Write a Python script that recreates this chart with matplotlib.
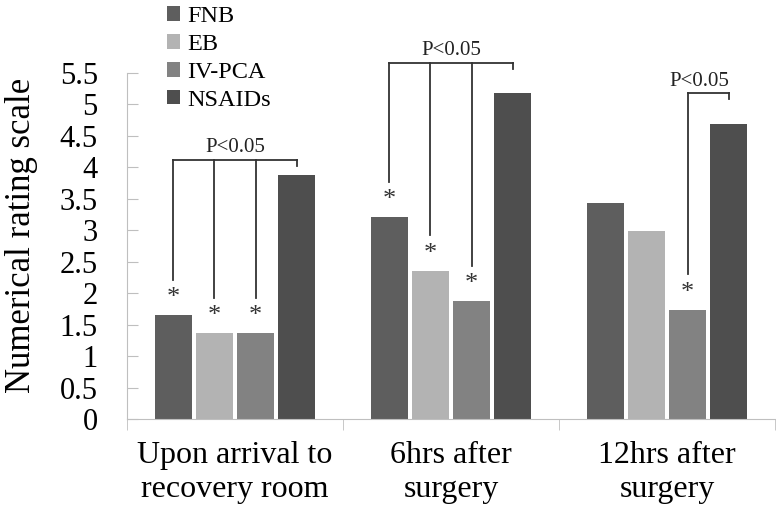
import numpy as np
import matplotlib
matplotlib.use("Agg")
import matplotlib.pyplot as plt

plt.rcParams['font.family'] = ['Liberation Serif', 'DejaVu Serif']

categories = ["Upon arrival to\nrecovery room", "6hrs after\nsurgery", "12hrs after\nsurgery"]
groups = ["FNB", "EB", "IV-PCA", "NSAIDs"]
fnb = [1.65, 3.21, 3.43]
eb = [1.37, 2.36, 2.99]
ivpca = [1.37, 1.87, 1.74]
nsaids = [3.88, 5.19, 4.69]
colors = ["#5e5e5e", "#b3b3b3", "#828282", "#4e4e4e"]

# significance: (category, bars compared with NSAIDs, bracket height)
brackets = [(0, [0, 1, 2], 4.12), (1, [0, 1, 2], 5.66), (2, [2], 5.18)]

fig = plt.figure(figsize=(7.76, 5.15), dpi=100)
ax = fig.add_axes([127/776, 1 - 419/515, 648/776, 346/515])

x = np.arange(len(categories))
step = 0.19
width = 0.168
series = [fnb, eb, ivpca, nsaids]
for i, (name, vals) in enumerate(zip(groups, series)):
    ax.bar(x + (i - 1.5) * step, vals, width, color=colors[i], label=name, linewidth=0)

for cat, idx, top in brackets:
    xs = [cat + (i - 1.5) * step for i in idx]
    xn = cat + 1.5 * step
    ax.plot([xs[0], xn], [top, top], color="#333333", lw=1.3, clip_on=False)
    for i, xi in zip(idx, xs):
        v = series[i][cat]
        ax.plot([xi, xi], [top, v + 0.56], color="#333333", lw=1.3, clip_on=False)
        ax.text(xi, v + 0.27, "*", ha="center", va="center", fontsize=19, color="#333333")
    ax.plot([xn, xn], [top, top - 0.1], color="#333333", lw=1.3, clip_on=False)
    xc = (xs[0] + xn) / 2 if len(idx) > 1 else (xs[0] + xn) / 2 - 0.04
    ax.text(xc, top + 0.04, "P<0.05", ha="center", va="bottom", fontsize=15, color="#222222")

ax.set_xlim(-0.5, 2.5)
ax.set_ylim(0, 5.5)
ax.set_yticks(np.arange(0, 5.51, 0.5))
ax.set_yticklabels(["0", "0.5", "1", "1.5", "2", "2.5", "3", "3.5", "4", "4.5", "5", "5.5"])
ax.set_xticks(x)
ax.set_xticklabels(categories, linespacing=1.22)
ax.set_xticks([-0.5, 0.5, 1.5, 2.5], minor=True)
ax.tick_params(axis="x", which="major", length=0, pad=16, labelsize=23)
ax.tick_params(axis="x", which="minor", length=8, color="#bfbfbf", direction="out")
ax.tick_params(axis="y", length=8, direction="in", color="#bfbfbf", pad=21, labelsize=22)
for s in ["top", "right"]:
    ax.spines[s].set_visible(False)
for s in ["left", "bottom"]:
    ax.spines[s].set_color("#bfbfbf")
ax.set_ylabel("Numerical rating scale", fontsize=25)
ax.yaxis.set_label_coords(-0.138, 0.53)

fig.legend(loc="upper left", bbox_to_anchor=(163/776, 0.995), frameon=False, fontsize=17.5,
           handlelength=0.55, handleheight=0.55, handletextpad=0.3, labelspacing=0.28,
           borderaxespad=0, borderpad=0.15)

fig.savefig("out.png", dpi=100)
